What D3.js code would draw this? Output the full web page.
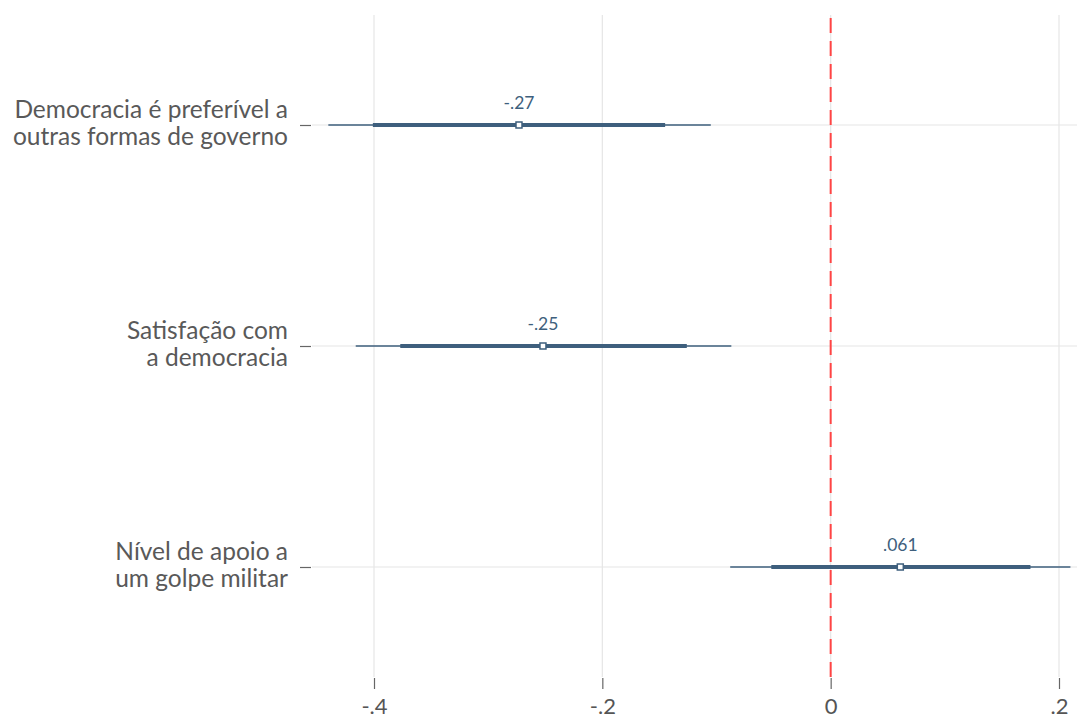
<!DOCTYPE html>
<html><head><meta charset="utf-8">
<script src="https://cdn.jsdelivr.net/npm/d3@7"></script>
<style>body{margin:0;background:#fff}svg{display:block}</style>
</head><body><svg id="c" width="1077" height="720"></svg>
<script>
const labels = [["Democracia é preferível a","outras formas de governo"],["Satisfação com","a democracia"],["Nível de apoio a","um golpe militar"]];
const estimates = [-0.273, -0.252, 0.061];
const estLabels = ["-.27", "-.25", ".061"];
const ci95lo = [-0.440, -0.416, -0.088];
const ci95hi = [-0.105, -0.087, 0.210];
const ci90lo = [-0.401, -0.377, -0.052];
const ci90hi = [-0.145, -0.126, 0.175];
const xTicks = [-0.4, -0.2, 0, 0.2];
const xTickLabels = ["-.4", "-.2", "0", ".2"];

(function () {
const svg = d3.select("#c");
const font = "Lato, 'Open Sans', sans-serif";
const blue = "#3e5f7d";
const x = d3.scaleLinear().domain([-0.4, 0.2]).range([374, 1059]);
const y = d3.scalePoint().domain(d3.range(3)).range([125, 567]);
const plotTop = 15, plotBottom = 677;

svg.append("g").selectAll("line").data(xTicks).join("line")
  .attr("x1", d => x(d)).attr("x2", d => x(d)).attr("y1", plotTop).attr("y2", plotBottom)
  .attr("stroke", "#e6e6e6").attr("stroke-width", 1.2);
svg.append("g").selectAll("line").data(d3.range(3)).join("line")
  .attr("x1", 312).attr("x2", 1077).attr("y1", d => y(d)).attr("y2", d => y(d))
  .attr("stroke", "#e6e6e6").attr("stroke-width", 1.2);

const xAxis = d3.axisBottom(x).tickValues(xTicks).tickFormat((d, i) => xTickLabels[i]).tickSize(11).tickPadding(9);
const gx = svg.append("g").attr("transform", `translate(0,${plotBottom + 1})`).call(xAxis);
gx.select(".domain").remove();
gx.selectAll(".tick line").attr("stroke", "#666").attr("stroke-width", 1.2);
gx.selectAll(".tick text").attr("fill", "#555").attr("font-family", font).attr("font-size", 22);

const yAxis = d3.axisLeft(y).tickSize(11).tickFormat("");
const gy = svg.append("g").attr("transform", "translate(311,0)").call(yAxis);
gy.select(".domain").remove();
gy.selectAll(".tick line").attr("stroke", "#666").attr("stroke-width", 1.2);

const yl = svg.append("g").selectAll("text").data(labels).join("text")
  .attr("text-anchor", "end").attr("fill", "#595959")
  .attr("font-family", font).attr("font-size", 24.5)
  .attr("transform", (d, i) => `translate(288,${y(i)})`);
yl.selectAll("tspan").data(d => d).join("tspan")
  .attr("x", 0).attr("y", (d, i) => i === 0 ? -7 : 19.5).text(d => d);

svg.append("line").attr("x1", x(0)).attr("x2", x(0)).attr("y1", plotTop + 3).attr("y2", plotBottom)
  .attr("stroke", "#ff4444").attr("stroke-width", 2).attr("stroke-dasharray", "15,8");

const rows = d3.range(3);
svg.append("g").selectAll("line").data(rows).join("line")
  .attr("x1", i => x(ci95lo[i])).attr("x2", i => x(ci95hi[i]))
  .attr("y1", i => y(i)).attr("y2", i => y(i))
  .attr("stroke", blue).attr("stroke-width", 1.5);
svg.append("g").selectAll("line").data(rows).join("line")
  .attr("x1", i => x(ci90lo[i])).attr("x2", i => x(ci90hi[i]))
  .attr("y1", i => y(i)).attr("y2", i => y(i))
  .attr("stroke", blue).attr("stroke-width", 4);
svg.append("g").selectAll("rect").data(rows).join("rect")
  .attr("x", i => x(estimates[i]) - 3).attr("y", i => y(i) - 3)
  .attr("width", 6).attr("height", 6)
  .attr("fill", "#fff").attr("stroke", blue).attr("stroke-width", 1.5);
svg.append("g").selectAll("text").data(rows).join("text")
  .attr("x", i => x(estimates[i])).attr("y", i => y(i) - 16)
  .attr("text-anchor", "middle").attr("fill", blue)
  .attr("font-family", font).attr("font-size", 17.5)
  .text(i => estLabels[i]);
})();
</script></body></html>
